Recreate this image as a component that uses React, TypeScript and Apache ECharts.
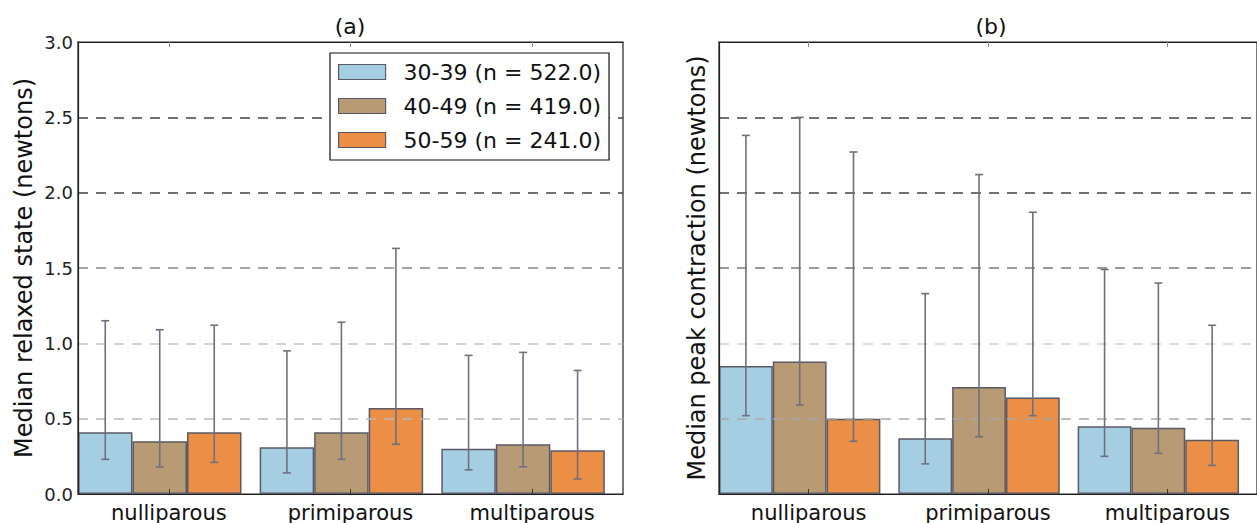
import React, { useEffect, useRef } from "react";
import * as echarts from "echarts";

const categories = ["nulliparous", "primiparous", "multiparous"];
const groupNames = ["30-39 (n = 522.0)", "40-49 (n = 419.0)", "50-59 (n = 241.0)"];
const groupColors = ["#a6cee3", "#b89b74", "#eb8f46"];

// (a) Median relaxed state
const relaxed3039 = [0.41, 0.31, 0.3];
const relaxed4049 = [0.35, 0.41, 0.33];
const relaxed5059 = [0.41, 0.57, 0.29];
const relaxedLow3039 = [0.23, 0.14, 0.16];
const relaxedLow4049 = [0.18, 0.23, 0.18];
const relaxedLow5059 = [0.21, 0.33, 0.1];
const relaxedHigh3039 = [1.15, 0.95, 0.92];
const relaxedHigh4049 = [1.09, 1.14, 0.94];
const relaxedHigh5059 = [1.12, 1.63, 0.82];

// (b) Median peak contraction
const peak3039 = [0.85, 0.37, 0.45];
const peak4049 = [0.88, 0.71, 0.44];
const peak5059 = [0.5, 0.64, 0.36];
const peakLow3039 = [0.52, 0.2, 0.25];
const peakLow4049 = [0.59, 0.38, 0.27];
const peakLow5059 = [0.35, 0.52, 0.19];
const peakHigh3039 = [2.38, 1.33, 1.49];
const peakHigh4049 = [2.5, 2.12, 1.4];
const peakHigh5059 = [2.27, 1.87, 1.12];

const yTicksMin = 0;
const yTicksMax = 3;
const yTickStep = 0.5;

const FONT = "DejaVu Sans";
const BAR_FRAC = 0.3;

export default function App() {
  const ref = useRef<HTMLDivElement>(null);

  useEffect(() => {
    if (!ref.current) return;
    const chart = echarts.init(ref.current, null, { renderer: "svg" });

    const panels = [
      {
        values: [relaxed3039, relaxed4049, relaxed5059],
        lows: [relaxedLow3039, relaxedLow4049, relaxedLow5059],
        highs: [relaxedHigh3039, relaxedHigh4049, relaxedHigh5059],
      },
      {
        values: [peak3039, peak4049, peak5059],
        lows: [peakLow3039, peakLow4049, peakLow5059],
        highs: [peakHigh3039, peakHigh4049, peakHigh5059],
      },
    ];

    const series: any[] = [];
    panels.forEach((p, gi) => {
      p.values.forEach((vals, k) => {
        series.push({
          type: "bar",
          name: groupNames[k],
          xAxisIndex: gi * 2,
          yAxisIndex: gi,
          data: vals,
          barWidth: "30%",
          barGap: "0%",
          itemStyle: {
            color: groupColors[k],
            borderColor: "#5a5a66",
            borderWidth: 1.5,
          },
          z: 2,
        });
      });
      series.push({
        type: "bar",
        name: "_pad" + gi,
        xAxisIndex: gi * 2,
        yAxisIndex: gi,
        data: categories.map(() => null),
        barWidth: "10%",
        barGap: "0%",
        silent: true,
      });
      p.values.forEach((vals, k) => {
        series.push({
          type: "custom",
          name: groupNames[k],
          xAxisIndex: gi * 2,
          yAxisIndex: gi,
          z: 5,
          silent: true,
          encode: { x: 0, y: [1, 2] },
          data: categories.map((_, i) => [i, p.lows[k][i], p.highs[k][i]]),
          renderItem: (params: any, api: any) => {
            const ci = api.value(0);
            const lo = api.value(1);
            const hi = api.value(2);
            const c = api.coord([ci, 0])[0];
            const band = api.size([1, 0])[0];
            const x = c - band / 2 + (k + 0.5) * BAR_FRAC * band;
            const yl = api.coord([ci, lo])[1];
            const yh = api.coord([ci, hi])[1];
            const cap = 4;
            const style = { stroke: "#6f6f80", lineWidth: 1.6 };
            return {
              type: "group",
              children: [
                { type: "line", shape: { x1: x, y1: yl, x2: x, y2: yh }, style },
                { type: "line", shape: { x1: x - cap, y1: yh, x2: x + cap, y2: yh }, style },
                { type: "line", shape: { x1: x - cap, y1: yl, x2: x + cap, y2: yl }, style },
              ],
            };
          },
        });
      });
    });

    const gridLineColors = [
      ["rgba(0,0,0,0)", "#bbbbbb", "#c4c4c4", "#858585", "#444444", "#444444", "rgba(0,0,0,0)"],
      ["rgba(0,0,0,0)", "#a8a8a8", "#cfcfcf", "#7a7a7a", "#444444", "#444444", "rgba(0,0,0,0)"],
    ];

    const makeY = (gi: number, name: string, showLabels: boolean, nameGap: number) => ({
      type: "value",
      gridIndex: gi,
      min: yTicksMin,
      max: yTicksMax,
      interval: yTickStep,
      z: 3,
      name,
      nameLocation: "middle",
      nameGap,
      nameTextStyle: { fontFamily: FONT, fontSize: 24, color: "#111" },
      axisLine: { show: true, lineStyle: { color: "#222", width: 1.2 } },
      axisTick: { show: false },
      axisLabel: {
        show: showLabels,
        fontFamily: FONT,
        fontSize: 18,
        color: "#222",
        margin: 5,
        formatter: (v: number) => v.toFixed(1),
      },
      splitLine: {
        show: true,
        lineStyle: { color: gridLineColors[gi], type: [10, 8], width: 1.5 },
      },
    });

    const makeXBottom = (gi: number) => ({
      type: "category",
      gridIndex: gi,
      data: categories,
      position: "bottom",
      z: 3,
      axisLine: { show: true, lineStyle: { color: "#222", width: 1.2 } },
      axisTick: { show: true, inside: true, alignWithLabel: true, length: 5, lineStyle: { color: "#333" } },
      axisLabel: { fontFamily: FONT, fontSize: 21, color: "#111", margin: 8 },
      splitLine: { show: false },
    });
    const makeXTop = (gi: number) => ({
      type: "category",
      gridIndex: gi,
      data: categories,
      position: "top",
      z: 3,
      axisLine: { show: true, lineStyle: { color: "#222", width: 1.2 } },
      axisTick: { show: true, inside: true, alignWithLabel: true, length: 5, lineStyle: { color: "#888" } },
      axisLabel: { show: false },
      splitLine: { show: false },
    });

    chart.setOption({
      animation: false,
      backgroundColor: "#ffffff",
      title: [
        {
          text: "(a)",
          left: 350,
          top: 15,
          textAlign: "center",
          padding: 0,
          textStyle: { fontFamily: FONT, fontSize: 22, fontWeight: "normal", color: "#111" },
        },
        {
          text: "(b)",
          left: 991,
          top: 15,
          textAlign: "center",
          padding: 0,
          textStyle: { fontFamily: FONT, fontSize: 22, fontWeight: "normal", color: "#111" },
        },
      ],
      legend: {
        data: groupNames,
        orient: "vertical",
        left: 330,
        top: 53,
        backgroundColor: "#ffffff",
        borderColor: "#111",
        borderWidth: 1.2,
        borderRadius: 0,
        padding: [8, 8, 9, 8],
        itemWidth: 47,
        itemHeight: 15,
        itemGap: 12,
        icon: "rect",
        itemStyle: { borderColor: "#5a5a66", borderWidth: 1.2 },
        textStyle: {
          fontFamily: FONT,
          fontSize: 22,
          color: "#111",
          lineHeight: 22,
          padding: [0, 0, 0, 13],
        },
        z: 10,
      },
      grid: [
        { left: 78, top: 42, width: 545, height: 452, show: true, borderColor: "#222", borderWidth: 1.2, backgroundColor: "transparent" },
        { left: 719, top: 42, width: 544, height: 452, show: true, borderColor: "#222", borderWidth: 1.2, backgroundColor: "transparent" },
      ],
      xAxis: [makeXBottom(0), makeXTop(0), makeXBottom(1), makeXTop(1)],
      yAxis: [
        makeY(0, "Median relaxed state (newtons)", true, 42),
        makeY(1, "Median peak contraction (newtons)", false, 10),
      ],
      series: series.map((s) => {
        if (s.type === "custom") {
          return s;
        }
        return s;
      }),
    });

    return () => chart.dispose();
  }, []);

  return (
    <div
      ref={ref}
      style={{ position: "fixed", left: 0, top: 0, width: 1257, height: 523, background: "#fff" }}
    />
  );
}
